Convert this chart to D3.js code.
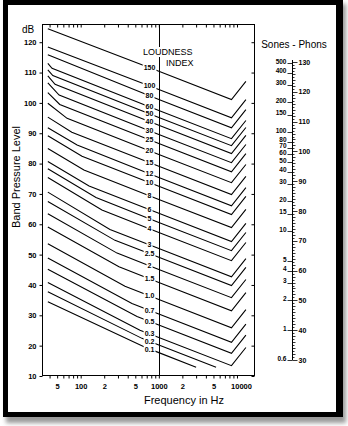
<!DOCTYPE html>
<html><head><meta charset="utf-8">
<script src="https://cdn.jsdelivr.net/npm/d3@7"></script>
<style>
body{margin:0;background:#fff;}
svg{display:block;}
</style></head><body>
<svg id="c" width="348" height="426"></svg>
<script>
// ---------- data ----------
const indexLabels = ["150","100","80","60","50","40","30","25","20","15","12","10","8","6","5","4","3","2.5","2","1.5","1.0","0.7","0.5","0.3","0.2","0.1"];
const startHz = 38;
const startDb = [124.4,118.4,115.9,113.0,110.9,108.9,106.6,103.4,99.9,95.3,91.8,89.2,85.0,80.7,78.3,75.4,70.6,67.5,63.5,59.1,53.6,48.9,45.2,40.8,37.8,34.5];
const kneeHz  = [null,null,null,43,44,47,53,54,67,77,90,104,110,128,157,187,237,275,292,309,369,453,526,574,609,646];
const kneeDb  = [null,null,null,111.4,109.0,106.1,102.6,99.5,94.9,90.3,86.1,82.4,77.9,72.6,68.8,64.7,58.3,54.7,50.5,46.0,39.6,33.9,29.6,25.1,22.4,19.6];
const db1000  = [110.4,104.4,101.1,97.5,95.2,92.6,89.6,86.6,83.0,79.1,75.4,72.5,68.2,63.6,60.6,57.3,52.0,49.1,45.1,40.8,35.2,30.4,26.8,22.7,20.2,17.7];
const minHz = 8500;
const dbMin   = [101.1,95.1,91.8,88.2,85.9,83.3,80.3,77.3,73.7,69.8,66.1,63.2,58.9,54.3,51.3,48.0,42.7,39.8,35.8,31.5,25.9,21.1,17.5,13.4,null,null];
const endHz   = [13000,13000,13000,13000,13000,13000,13000,13000,13000,13000,13000,13000,13000,13000,13000,13000,13000,13000,13000,13000,13000,13000,13000,13000,5400,3000];
const dbEnd   = [107.1,101.1,97.8,94.2,91.9,89.3,86.3,83.3,79.7,75.8,72.1,69.2,64.9,60.3,57.3,54.0,48.7,45.8,41.8,37.5,31.9,27.1,23.5,19.4,12.9,12.9];

const dbTicks = [10,20,30,40,50,60,70,80,90,100,110,120];
const freqTicks = [40,50,60,70,80,90,100,200,300,400,500,600,700,800,900,1000,2000,3000,4000,5000,6000,7000,8000,9000,10000];
const freqTickLabels = {50:"5",100:"100",200:"2",500:"5",1000:"1000",2000:"2",5000:"5",10000:"10000"};

const phonTicks = [30,40,50,60,70,80,90,100,110,120,130];
const soneValues = [0.5,1,2,3,4,5,10,15,20,30,40,50,60,70,80,100,150,200,300,400,500];
const soneLabels = ["0.6","1","2","3","4","5","10","15","20","30","40","50","60","70","80","100","150","200","300","400","500"];

// ---------- drawing ----------
const svg = d3.select("#c");
const defs = svg.append("defs");
defs.append("filter").attr("id","blur").append("feGaussianBlur").attr("stdDeviation",2);

svg.append("rect").attr("x",6).attr("y",4).attr("width",340).attr("height",419).attr("fill","#9a9a9a").attr("filter","url(#blur)");
svg.append("rect").attr("x",3).attr("y",0).attr("width",340).attr("height",417).attr("fill","#000");
svg.append("rect").attr("x",8).attr("y",5).attr("width",328).attr("height",407).attr("fill","#fff");

const x = d3.scaleLog().domain([32,17000]).range([42,255]);
const y = d3.scaleLinear().domain([10,126]).range([376,24]);
const L = 42, R = 255, T = 24, B = 376;

const tickFont = '"Liberation Sans Narrow","Liberation Sans",Arial,sans-serif';
const textFont = '"Liberation Sans",Arial,sans-serif';
const g = svg.append("g");

// plot box
g.append("rect").attr("x",L+0.5).attr("y",T+0.5).attr("width",R-L-1).attr("height",B-T-1)
  .attr("fill","none").attr("stroke","#000").attr("stroke-width",1);

// 1000 Hz line
g.append("line").attr("x1",Math.round(x(1000))+0.5).attr("x2",Math.round(x(1000))+0.5)
  .attr("y1",T).attr("y2",B).attr("stroke","#000").attr("stroke-width",1);

// bottom axis
const bottomAxis = d3.axisBottom(x).tickValues(freqTicks).tickSize(3).tickPadding(5)
  .tickFormat(d => freqTickLabels[d] || "");
const ba = g.append("g").attr("transform",`translate(0,${B-0.5})`).call(bottomAxis);
ba.select(".domain").remove();
ba.selectAll("text").attr("font-family",tickFont).attr("font-weight","bold").attr("font-size",7.5)
  .attr("dx", d => d===10000 ? 4 : 0);

// top axis (inward ticks)
const topAxis = d3.axisBottom(x).tickValues(freqTicks).tickSize(3).tickFormat("");
const ta = g.append("g").attr("transform",`translate(0,${T+0.5})`).call(topAxis);
ta.select(".domain").remove();

// left axis
const leftAxis = d3.axisLeft(y).tickValues(dbTicks).tickSize(3).tickPadding(3);
const la = g.append("g").attr("transform",`translate(${L+0.5},0)`).call(leftAxis);
la.select(".domain").remove();
la.selectAll("text").attr("font-family",tickFont).attr("font-weight","bold").attr("font-size",7.5);

// right axis inward ticks
const rightAxis = d3.axisLeft(y).tickValues(dbTicks).tickSize(3).tickFormat("");
const ra = g.append("g").attr("transform",`translate(${R-0.5},0)`).call(rightAxis);
ra.select(".domain").remove();

// axis titles
svg.append("text").attr("x",22).attr("y",33).attr("font-family",textFont)
  .attr("font-size",10).text("dB");
svg.append("text").attr("transform","translate(20,177) rotate(-90)").attr("text-anchor","middle")
  .attr("font-family",textFont).attr("font-size",11).text("Band Pressure Level");
svg.append("text").attr("x",184).attr("y",404).attr("text-anchor","middle")
  .attr("font-family",textFont).attr("font-size",11).text("Frequency in Hz");

// contours
const lineGen = d3.line().x(d => x(d[0])).y(d => y(d[1]));
const curves = indexLabels.map((lab,i) => {
  const pts = [[startHz,startDb[i]]];
  if (kneeHz[i] !== null) pts.push([kneeHz[i],kneeDb[i]]);
  pts.push([1000,db1000[i]]);
  if (dbMin[i] !== null) pts.push([minHz,dbMin[i]]);
  pts.push([endHz[i],dbEnd[i]]);
  return {lab, pts};
});
const cg = svg.append("g");
cg.selectAll("path").data(curves).join("path")
  .attr("d", d => lineGen(d.pts)).attr("fill","none").attr("stroke","#000").attr("stroke-width",1.1);

// LOUDNESS INDEX
const titleBg = svg.append("g");
const titleTx = svg.append("g");
const ld = titleTx.append("text").attr("x",143).attr("y",55).attr("font-family",textFont)
  .attr("font-size",9).text("LOUDNESS");
const bb = ld.node().getBBox();
titleBg.append("rect").attr("x",bb.x-1).attr("y",bb.y).attr("width",bb.width+2).attr("height",bb.height).attr("fill","#fff");
titleTx.append("text").attr("x",166).attr("y",66).attr("font-family",textFont)
  .attr("font-size",9).text("INDEX");

const labelX = 149.5;
function yAt(pts, px){
  for (let k=0;k<pts.length-1;k++){
    const x0=x(pts[k][0]), x1=x(pts[k+1][0]);
    if (px>=x0 && px<=x1){
      const t=(px-x0)/(x1-x0);
      return y(pts[k][1])+(y(pts[k+1][1])-y(pts[k][1]))*t;
    }
  }
  return y(pts[0][1]);
}
const lbg = svg.append("g");
const ltx = svg.append("g");
curves.forEach(c => {
  const ly = yAt(c.pts, labelX);
  const t = ltx.append("text").attr("x",labelX).attr("y",ly).attr("text-anchor","middle")
    .attr("dominant-baseline","central").attr("font-family",tickFont).attr("font-weight","bold")
    .attr("font-size",7).text(c.lab);
  const b = t.node().getBBox();
  lbg.append("rect").attr("x",b.x-1).attr("y",ly-3.5).attr("width",b.width+2).attr("height",7).attr("fill","#fff");
});

// Sones - Phons scale
const phon = d3.scaleLinear().domain([30,130]).range([360,62]);
const sx = 292.5;
const sg = svg.append("g");
sg.append("text").attr("x",294).attr("y",48).attr("text-anchor","middle")
  .attr("font-family",textFont).attr("font-size",10).text("Sones - Phons");
sg.append("line").attr("x1",sx).attr("x2",sx).attr("y1",phon(130)-2).attr("y2",phon(30)).attr("stroke","#000");
sg.selectAll("line.mn").data(d3.range(30,131,1)).join("line").attr("class","mn")
  .attr("x1",sx).attr("x2",d => sx + (d%10===0?5:(d%2===0?3:2))).attr("y1",d=>Math.round(phon(d))+0.5).attr("y2",d=>Math.round(phon(d))+0.5)
  .attr("stroke","#000").attr("stroke-width",0.8);
sg.selectAll("text.ph").data(phonTicks).join("text").attr("class","ph")
  .attr("x",sx+6).attr("y",d=>phon(d)).attr("dominant-baseline","central")
  .attr("font-family",tickFont).attr("font-weight","bold").attr("font-size",7).text(d=>d);
const sonePhon = s => 40 + 10*Math.log2(s);
sg.selectAll("line.so").data(soneValues).join("line").attr("class","so")
  .attr("x1",sx-5).attr("x2",sx).attr("y1",d=>Math.round(phon(sonePhon(d)))+0.5).attr("y2",d=>Math.round(phon(sonePhon(d)))+0.5)
  .attr("stroke","#000").attr("stroke-width",0.8);
sg.selectAll("text.so").data(soneValues).join("text").attr("class","so")
  .attr("x",sx-6).attr("y",d=>phon(sonePhon(d))-2).attr("text-anchor","end").attr("dominant-baseline","central")
  .attr("font-family",tickFont).attr("font-weight","bold").attr("font-size",6.5)
  .text((d,i)=>soneLabels[i]);
</script>
</body></html>
